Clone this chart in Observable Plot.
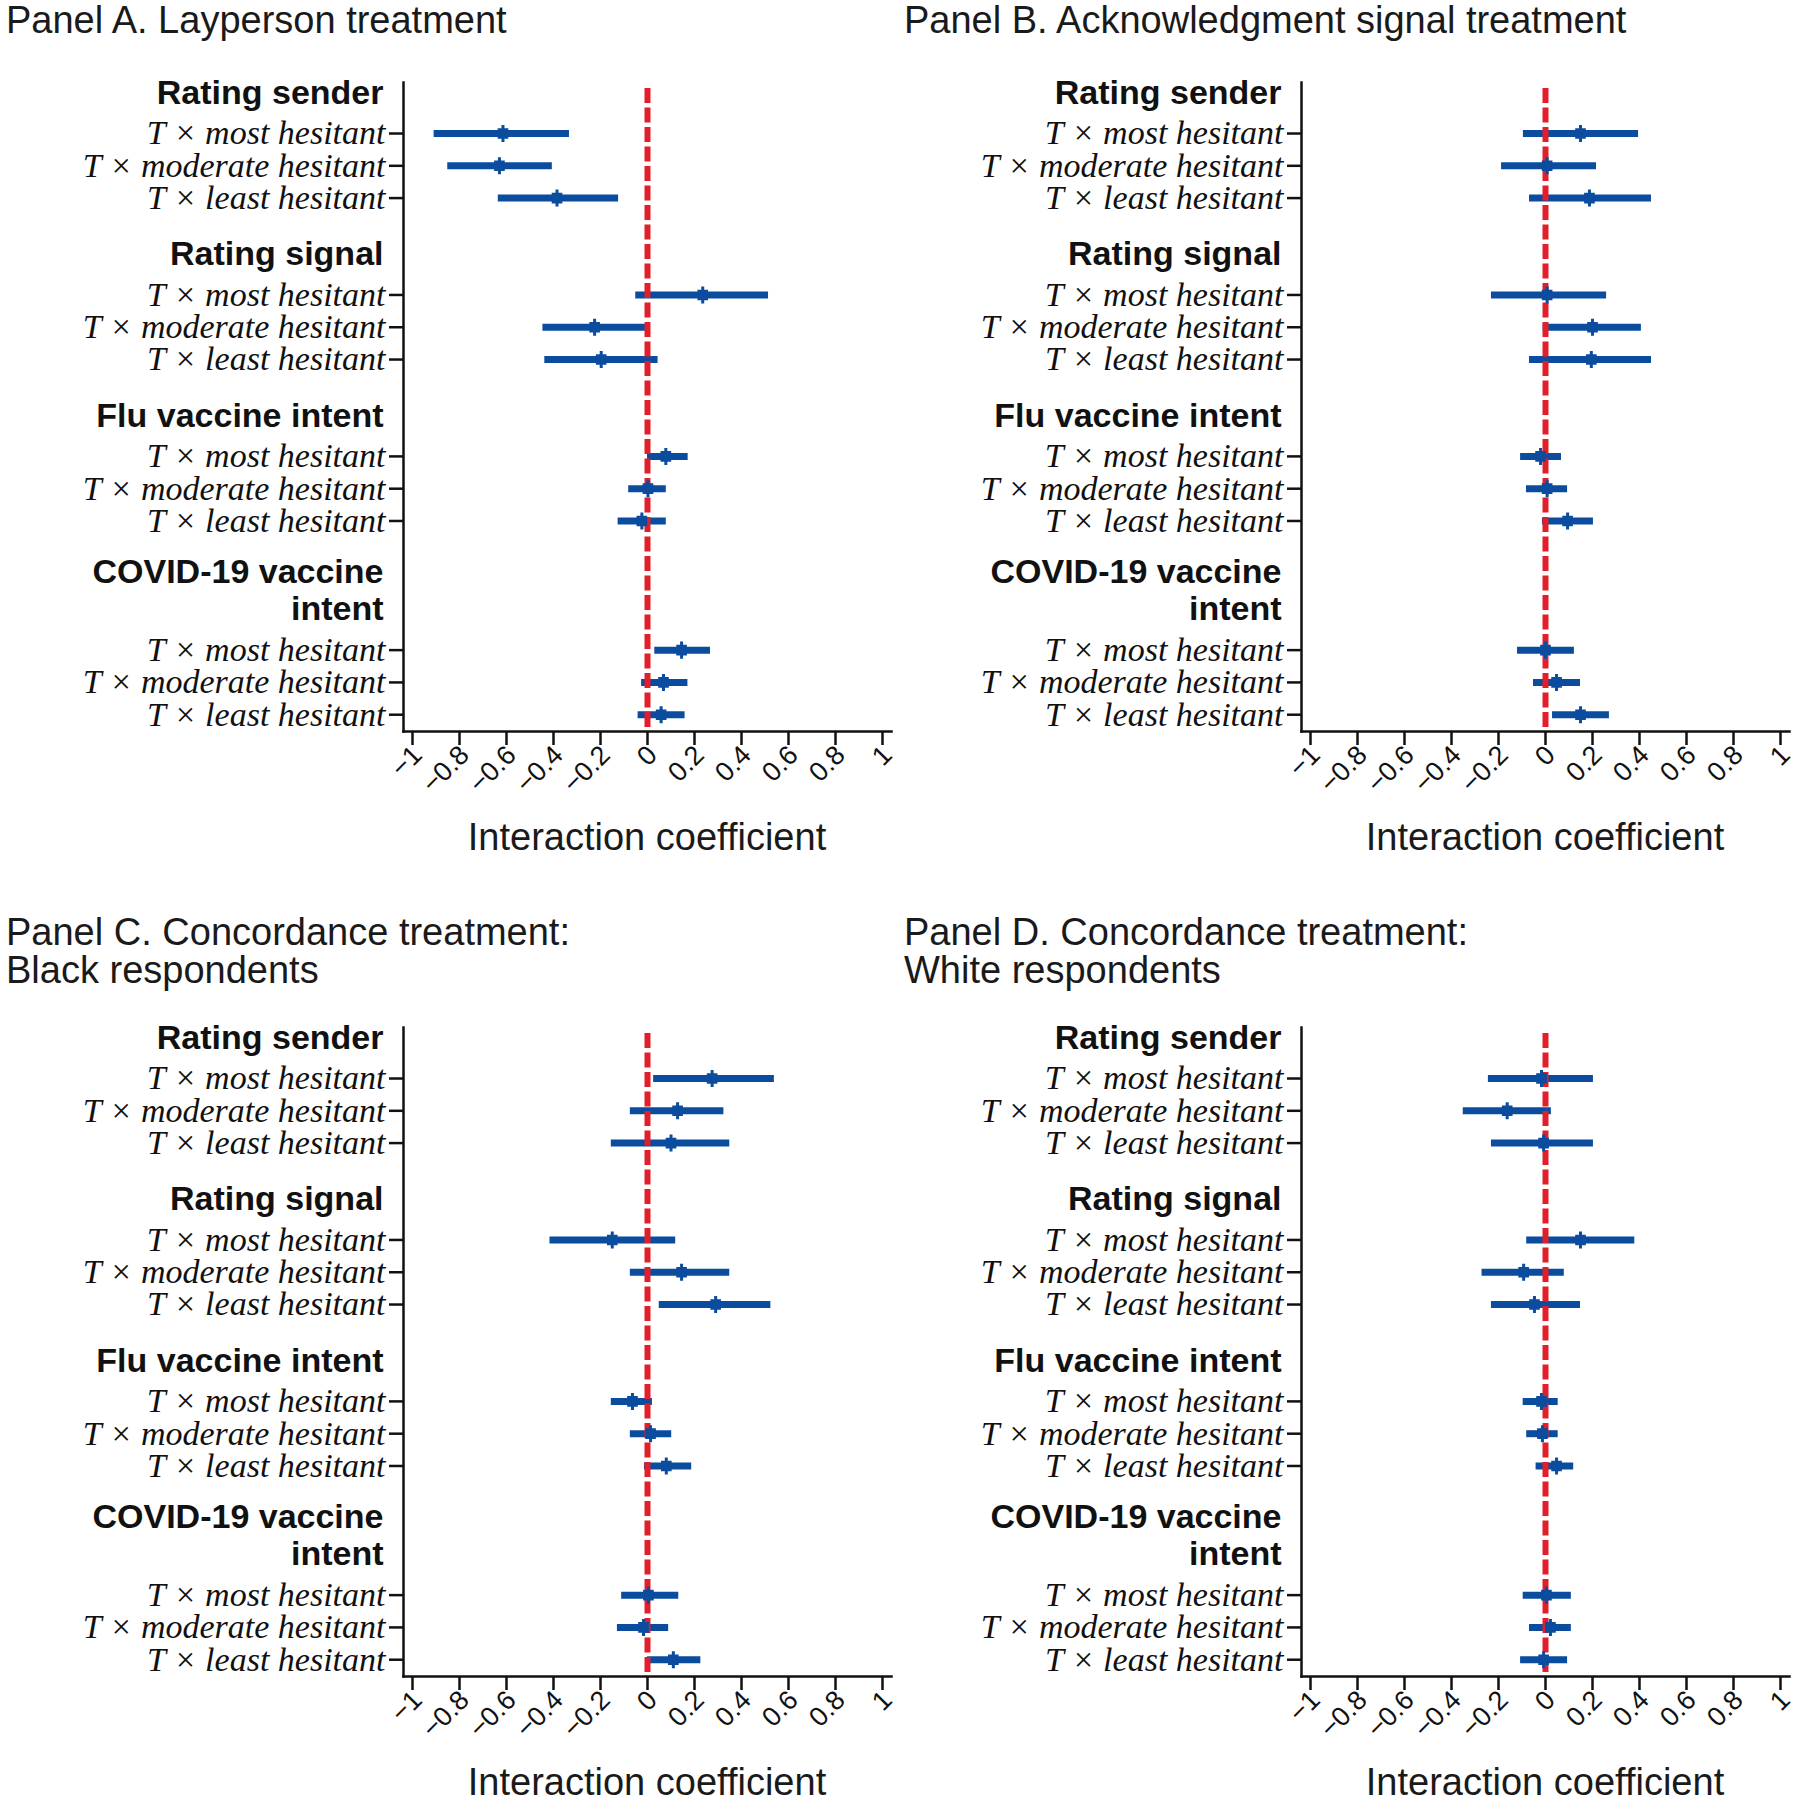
<!DOCTYPE html>
<html><head><meta charset="utf-8">
<script src="https://cdn.jsdelivr.net/npm/d3@7"></script>
<script src="https://cdn.jsdelivr.net/npm/@observablehq/plot@0.6"></script>
<style>
body{margin:0;background:#fff;}
#root{position:relative;width:1800px;height:1804px;overflow:hidden;font-family:"Liberation Sans",Arial,sans-serif;background:#fff;}
.title{position:absolute;font-size:38px;line-height:38px;color:#1a1a1a;white-space:pre;}
.xlab{position:absolute;font-size:38px;line-height:42px;color:#1a1a1a;transform:translateX(-50%);white-space:nowrap;}
.panel{position:absolute;}
</style></head><body><div id="root"></div>
<script>
// ---------- data ----------
const panelTitles = [
  "Panel A. Layperson treatment",
  "Panel B. Acknowledgment signal treatment",
  "Panel C. Concordance treatment:\nBlack respondents",
  "Panel D. Concordance treatment:\nWhite respondents"
];
const groupHeaders = [["Rating sender"], ["Rating signal"], ["Flu vaccine intent"], ["COVID-19 vaccine", "intent"]];
const rowLabels = ["T × most hesitant", "T × moderate hesitant", "T × least hesitant"];
const xTicks = [-1, -0.8, -0.6, -0.4, -0.2, 0, 0.2, 0.4, 0.6, 0.8, 1];
const xTickLabels = ["−1", "−0.8", "−0.6", "−0.4", "−0.2", "0", "0.2", "0.4", "0.6", "0.8", "1"];
const xTitle = "Interaction coefficient";

// values in order: group (sender, signal, flu, covid) × row (most, moderate, least)
const estA = [-0.615, -0.63, -0.385, 0.235, -0.225, -0.197, 0.078, 0.002, -0.024, 0.145, 0.068, 0.058];
const loA  = [-0.908, -0.85, -0.635, -0.05, -0.445, -0.437, 0.0, -0.08, -0.125, 0.031, -0.025, -0.04];
const hiA  = [-0.332, -0.405, -0.123, 0.515, 0.0, 0.045, 0.173, 0.08, 0.08, 0.268, 0.172, 0.16];

const estB = [0.149, 0.007, 0.187, 0.007, 0.2, 0.195, -0.021, 0.007, 0.094, 0.0, 0.047, 0.149];
const loB  = [-0.094, -0.187, -0.068, -0.23, -0.01, -0.068, -0.106, -0.081, -0.013, -0.119, -0.051, 0.03];
const hiB  = [0.396, 0.217, 0.451, 0.26, 0.408, 0.451, 0.068, 0.094, 0.204, 0.123, 0.149, 0.272];

const estC = [0.275, 0.128, 0.10, -0.15, 0.145, 0.29, -0.064, 0.013, 0.08, 0.004, -0.017, 0.11];
const loC  = [0.026, -0.073, -0.154, -0.415, -0.073, 0.05, -0.154, -0.073, -0.013, -0.11, -0.128, 0.0];
const hiC  = [0.54, 0.325, 0.35, 0.12, 0.35, 0.525, 0.021, 0.103, 0.188, 0.133, 0.09, 0.227];

const estD = [-0.017, -0.163, -0.008, 0.149, -0.093, -0.047, -0.017, -0.013, 0.047, 0.004, 0.021, -0.008];
const loD  = [-0.243, -0.35, -0.23, -0.08, -0.27, -0.23, -0.095, -0.08, -0.04, -0.095, -0.068, -0.106];
const hiD  = [0.204, 0.025, 0.204, 0.38, 0.08, 0.149, 0.054, 0.054, 0.12, 0.11, 0.11, 0.094];

const panelData = [[estA, loA, hiA], [estB, loB, hiB], [estC, loC, hiC], [estD, loD, hiD]];

// ---------- layout ----------
const BLUE = "#0b4c9f", RED = "#e11f2b", INK = "#111";
const origins = [[0, 0], [898, 0], [0, 945], [898, 945]];
const titleTops = [1, 1, 913, 913];

// row slots (layout units)
const groupStart = [];
{
  let s = 0;
  groupHeaders.forEach((h, g) => {
    if (g > 0) s += rowLabels.length + 1 + h.length;
    groupStart.push(s);
  });
}
const rowPos = [], rowText = new Map(), headerItems = [];
groupHeaders.forEach((h, g) => {
  rowLabels.forEach((lab, r) => {
    const y = groupStart[g] + r;
    rowPos.push(y);
    rowText.set(y, lab);
  });
  h.forEach((line, i) => {
    headerItems.push({y: groupStart[g] - 1.26 - (h.length - 1 - i) * 1.15, text: line});
  });
});
const yDomain = [groupStart[0] - 1.58, rowPos[rowPos.length - 1] + 0.52];
const xLab = new Map(xTicks.map((t, i) => [t, xTickLabels[i]]));

const markerSymbol = {
  draw(ctx, size) {
    const s = Math.sqrt(size);
    ctx.moveTo(-s / 2, -s / 2); ctx.lineTo(s / 2, -s / 2); ctx.lineTo(s / 2, s / 2); ctx.lineTo(-s / 2, s / 2); ctx.closePath();
    ctx.moveTo(-1.5, -s * 0.8); ctx.lineTo(1.5, -s * 0.8); ctx.lineTo(1.5, s * 0.8); ctx.lineTo(-1.5, s * 0.8); ctx.closePath();
  }
};

const root = document.getElementById("root");
panelData.forEach(([est, lo, hi], p) => {
  const [ox, oy] = origins[p];
  const W = p % 2 === 0 ? 898 : 902;
  const rows = rowPos.map((y, i) => ({y, est: est[i], lo: lo[i], hi: hi[i]}));

  const chart = Plot.plot({
    width: W,
    height: 775,
    marginLeft: 403,
    marginRight: W - 891,
    marginTop: 42,
    marginBottom: 84,
    style: {background: "transparent", overflow: "visible", color: INK},
    x: {domain: [-1, 1], insetLeft: 9, insetRight: 9},
    y: {domain: yDomain, reverse: true},
    marks: [
      // x tick marks (no text)
      Plot.axisX({ticks: xTicks, tickFormat: () => "", tickSize: 14, strokeWidth: 2.5, stroke: INK, label: null}),
      // x tick labels (rotated)
      Plot.axisX({ticks: xTicks, tickFormat: d => xLab.get(d), tickRotate: -45, tickSize: 0, tickPadding: 19, dx: 5,
        fontSize: 27, fontFamily: "Liberation Sans, Arial, sans-serif", fill: INK, label: null}),
      Plot.axisY({ticks: rowPos, tickFormat: d => rowText.get(d), tickSize: 14, tickPadding: 4,
        fontSize: 34, fontFamily: "Liberation Serif, Times New Roman, serif", fontStyle: "italic",
        strokeWidth: 2.5, stroke: INK, fill: INK, label: null}),
      Plot.text(headerItems, {y: "y", text: "text", frameAnchor: "left", dx: -20, textAnchor: "end",
        fontSize: 34, fontWeight: "bold", fontFamily: "Liberation Sans, Arial, sans-serif", fill: INK}),
      Plot.ruleY(rows, {y: "y", x1: "lo", x2: "hi", stroke: BLUE, strokeWidth: 7}),
      Plot.ruleX([0], {stroke: RED, strokeWidth: 6, strokeDasharray: "15,4.5", insetTop: 6}),
      Plot.dot(rows, {x: "est", y: "y", symbol: markerSymbol, r: 6, fill: BLUE, stroke: "none"}),
      Plot.frame({anchor: "left", stroke: INK, strokeWidth: 2.5}),
      Plot.frame({anchor: "bottom", stroke: INK, strokeWidth: 2.5})
    ]
  });
  const wrap = document.createElement("div");
  wrap.className = "panel";
  wrap.style.left = ox + "px";
  wrap.style.top = (oy + 40) + "px";
  wrap.appendChild(chart);
  root.appendChild(wrap);

  const t = document.createElement("div");
  t.className = "title";
  t.style.left = (ox + 6) + "px";
  t.style.top = titleTops[p] + "px";
  t.textContent = panelTitles[p];
  root.appendChild(t);

  const xl = document.createElement("div");
  xl.className = "xlab";
  xl.style.left = (ox + 647) + "px";
  xl.style.top = (oy + 816) + "px";
  xl.textContent = xTitle;
  root.appendChild(xl);
});
</script>
</body></html>
